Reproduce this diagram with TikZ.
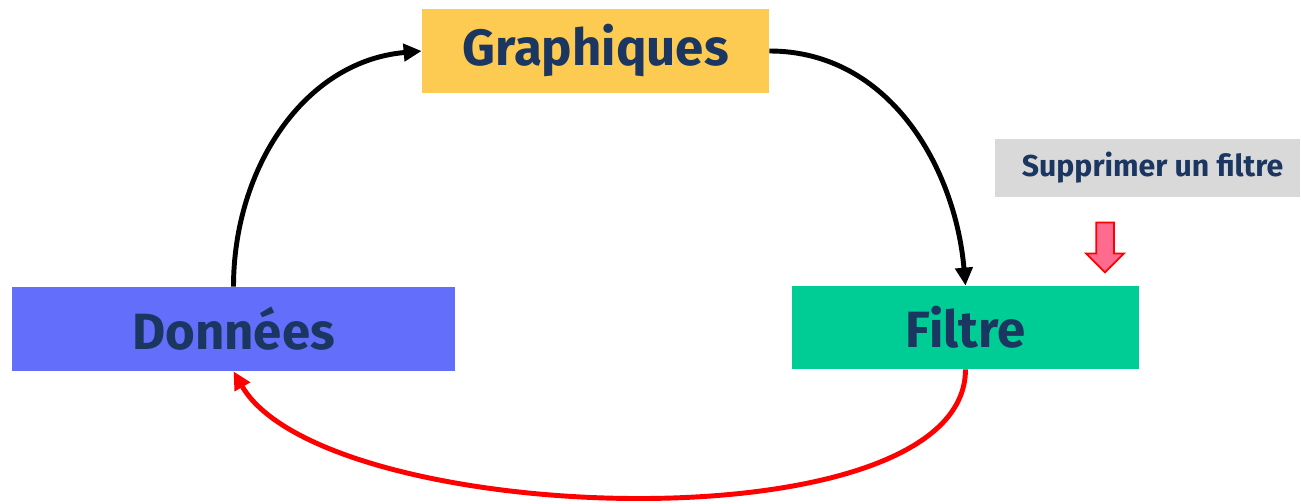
\documentclass[tikz,border=0pt]{standalone}
\usepackage{fontspec}
\setmainfont{Fira Sans}
\usepackage{tikz}
\usetikzlibrary{arrows.meta, shapes.arrows, positioning}
\definecolor{navy}{HTML}{1B3660}
\definecolor{dblue}{HTML}{636EFA}
\definecolor{dyellow}{HTML}{FECB52}
\definecolor{dgreen}{HTML}{00CC96}
\definecolor{dgrey}{HTML}{D9D9D9}
\definecolor{dpink}{HTML}{FF6B8F}

\tikzset{
  block/.style={minimum height=1.68cm, inner sep=0pt, text=navy, font=\fontsize{29}{34}\selectfont\bfseries},
  flow/.style={line width=2.8pt, -{Triangle[length=0.36cm,width=0.34cm]}}
}

\begin{document}
\begin{tikzpicture}
  \useasboundingbox (0,0) rectangle (26.02,10.08);
  % Blocks
  \node[block, fill=dyellow, minimum width=6.94cm] (graph) at (11.91,9.06) {Graphiques};
  \node[block, fill=dblue, minimum width=8.86cm] (data) at (4.67,3.50) {Données};
  \node[block, fill=dgreen, minimum width=6.94cm, minimum height=1.66cm] (filt) at (19.31,3.53) {Filtre};
  \node[fill=dgrey, minimum width=6.10cm, minimum height=1.16cm, inner sep=0pt, text=navy,
        font=\fontsize{17.2}{20}\selectfont\bfseries] (hint) at (22.95,6.72) {\hspace{0.2cm}Supprimer un filtre};
  \node[single arrow, rotate=-90, draw=red, fill=dpink, line width=1pt, minimum height=1.0cm,
        inner sep=0.16cm, single arrow head extend=0.2cm] (down) at (22.10,5.22) {};

  % Cycle
  \draw[flow] (data.north) to[out=90, in=185] (graph.west);
  \draw[flow] (graph.east) to[out=0, in=95] (filt.north);
  \draw[flow, red] (filt.south) to[out=-90, in=-60, looseness=0.63] (data.south);
\end{tikzpicture}
\end{document}
